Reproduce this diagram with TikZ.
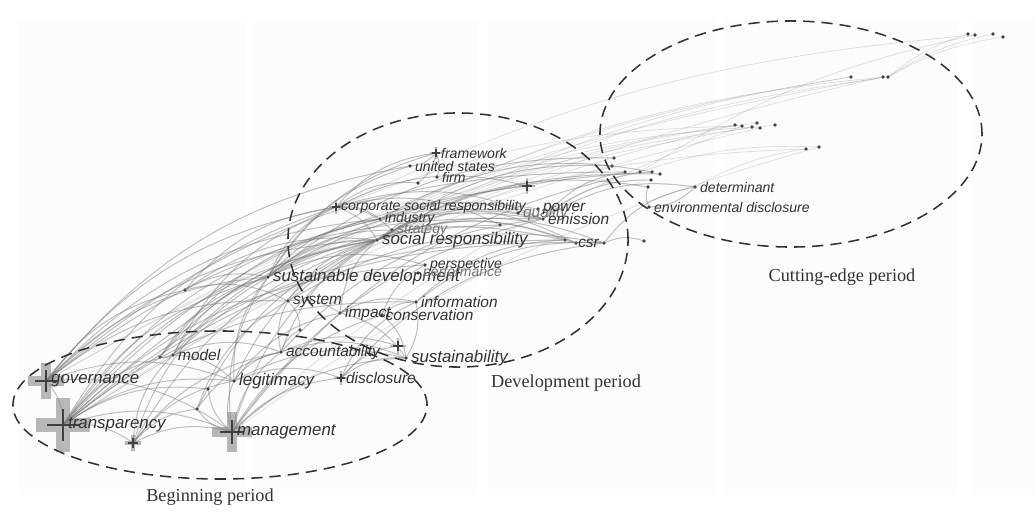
\documentclass[tikz,border=0pt]{standalone}
\usepackage{fontspec}
\setmainfont{Liberation Serif}
\setsansfont{Liberation Sans}
\usetikzlibrary{positioning}

\tikzset{
  dot/.style={circle,fill=black!75,inner sep=0pt,minimum size=2.5pt},
  kw/.style={font=\sffamily\itshape\fontsize{11}{11}\selectfont,text=black!80,inner sep=1pt},
  kwS/.style={kw,font=\sffamily\itshape\fontsize{10}{10}\selectfont},
  kwL/.style={kw,font=\sffamily\itshape\fontsize{12}{12}\selectfont},
  faint/.style={text=black!55},
  link/.style={draw=black!55,opacity=.45,line width=.7pt,bend left=20},
  farlink/.style={link,opacity=.22,line width=.5pt,bend left=10},
  period/.style={draw=black!80,line width=1.1pt,dash pattern=on 8pt off 5pt},
  era/.style={font=\rmfamily\fontsize{13}{13}\selectfont,text=black!80},
  panel/.style={fill=black!1,draw=none}
}
% plus-shaped marker on a node: name, half size, bar width
\newcommand\hubmark[3]{%
  \draw[black!50,opacity=.55,line width=#3] (#1) +(-#2,0) -- +(#2,0) +(0,-#2) -- +(0,#2);
  \draw[black!75,line width=.8pt] (#1) +(-0.6*#2,0) -- +(0.6*#2,0) +(0,-0.6*#2) -- +(0,0.6*#2);}

\begin{document}
\begin{tikzpicture}[x=0.025cm,y=-0.025cm]
  \useasboundingbox (0,0) rectangle (1035,513);
  \fill[panel] (18,20) rectangle (245,495) (255,20) rectangle (478,495)
    (488,20) rectangle (715,495) (725,20) rectangle (958,495) (972,20) rectangle (1035,495);

  % keyword dots
  \path
    (46,381) node[dot] (gov) {}
    (63,425) node[dot] (tra) {}
    (133,443) node[dot] (t2) {}
    (232,432) node[dot] (man) {}
    (173,355) node[dot] (mod) {}
    (234,381) node[dot] (leg) {}
    (281,352) node[dot] (acc) {}
    (341,378) node[dot] (dis) {}
    (406,358) node[dot] (sus) {}
    (398,346) node[dot] (hs) {}
    (268,277) node[dot] (sd) {}
    (288,301) node[dot] (sys) {}
    (340,313) node[dot] (imp) {}
    (382,315) node[dot] (con) {}
    (416,302) node[dot] (inf) {}
    (425,265) node[dot] (per) {}
    (418,273) node[dot] (perf) {}
    (377,240) node[dot] (soc) {}
    (392,230) node[dot] (str) {}
    (380,219) node[dot] (ind) {}
    (336,207) node[dot] (csr1) {}
    (436,153) node[dot] (fw) {}
    (410,166) node[dot] (us) {}
    (437,177) node[dot] (firm) {}
    (527,186) node[dot] (hb) {}
    (518,213) node[dot] (qual) {}
    (538,209) node[dot] (pow) {}
    (543,219) node[dot] (emi) {}
    (604,243) node[dot] (csr) {}
    (695,187) node[dot] (det) {}
    (649,207) node[dot] (env) {};

  % unlabelled dots
  \path
    (160,357) node[dot] (m0) {} (197,409) node[dot] (l1) {} (208,389) node[dot] (l2) {}
    (185,290) node[dot] (m1) {} (418,183) node[dot] (f2) {} (300,330) node[dot] (m2) {}
    (565,240) node[dot] (q1) {} (576,243) node[dot] (q2) {} (500,225) node[dot] (q3) {}
    (614,158) node[dot] (r1) {} (612,166) node[dot] (r2) {} (625,172) node[dot] (r3) {}
    (640,172) node[dot] (r4) {} (652,172) node[dot] (r5) {} (660,174) node[dot] (r6) {}
    (651,180) node[dot] (r7) {} (648,187) node[dot] (r8) {} (644,241) node[dot] (r9) {}
    (735,125) node[dot] (c1) {} (742,126) node[dot] (c2) {} (752,127) node[dot] (c3) {}
    (757,123) node[dot] (c4) {} (760,128) node[dot] (c5) {} (775,125) node[dot] (c6) {}
    (806,149) node[dot] (c7) {} (819,147) node[dot] (c8) {}
    (851,77) node[dot] (d1) {} (883,77) node[dot] (d2) {} (888,77) node[dot] (d3) {}
    (968,34) node[dot] (e1) {} (975,35) node[dot] (e2) {} (993,34) node[dot] (e3) {}
    (1003,37) node[dot] (e4) {};

  % links
  \draw[link]
    (gov) edge (tra) edge (man) edge (leg) edge (sd) edge (soc) edge (csr1) edge (emi) edge (r3)
      edge (ind) edge (sys) edge (m1) edge (us)
    (tra) edge (t2) edge (man) edge (mod) edge (sd) edge (soc) edge (ind) edge (csr) edge (r5)
      edge (csr1) edge (per) edge (inf) edge (hb) edge (leg) edge (l2) edge (q1)
    (t2) edge (man) edge (leg) edge (sd) edge (soc) edge (l1) edge (mod) edge (acc)
    (man) edge (leg) edge (l1) edge (l2) edge (dis) edge (sd) edge (soc) edge (emi) edge (r4)
      edge (sus) edge (con) edge (acc)
    (mod) edge (leg) edge (acc) edge (sd) edge (csr1) edge (soc) edge (m0) edge (q3)
    (m0) edge (sd) edge (soc) edge (ind)
    (l1) edge (acc) edge (soc) edge (sys)
    (m1) edge (sd) edge (soc) edge (sys) edge (csr1)
    (leg) edge (acc) edge (dis) edge (sus) edge (sd) edge (soc) edge (imp)
    (acc) edge (sus) edge (sys) edge (soc) edge (emi) edge (hs) edge (m2)
    (dis) edge (sus) edge (inf) edge (csr) edge (hs)
    (sd) edge (ind) edge (soc) edge (per) edge (csr1) edge (fw) edge (emi) edge (r1)
      edge (us) edge (q2) edge (str)
    (sys) edge (imp) edge (soc) edge (csr) edge (r6) edge (m2)
    (imp) edge (con) edge (inf) edge (soc) edge (sus)
    (con) edge (sus) edge (inf) edge (per)
    (inf) edge (sus) edge (csr) edge (q1)
    (csr1) edge (ind) edge (soc) edge (hb) edge (emi) edge (fw) edge (str) edge (f2) edge (q3)
    (soc) edge (emi) edge (csr) edge (qual) edge (pow) edge (r2) edge (q2) edge (q1) edge (r8)
    (ind) edge (q2) edge (emi) edge (r5)
    (fw) edge (us) edge (f2) edge (firm)
    (emi) edge (r3) edge (det) edge (r7)
    (csr) edge (r9) edge (det)
    (det) edge (env)
    (env) edge (r8);
  \draw[farlink]
    (gov) edge (c3) edge (d2)
    (tra) edge (c5) edge (d2) edge (c1)
    (man) edge (c2) edge (c8)
    (sd) edge (c1) edge (d1) edge (c6)
    (soc) edge (c4) edge (d1) edge (d3) edge (c7)
    (csr1) edge (c2) edge (e2)
    (ind) edge (c3) edge (d2)
    (det) edge (c7)
    (r4) edge (c8) edge (e2)
    (d3) edge (e1) edge (e3) edge (e4);

  % markers
  \hubmark{tra}{27}{10pt}
  \hubmark{gov}{18}{7pt}
  \hubmark{man}{20}{7pt}
  \hubmark{t2}{8}{2.5pt}
  \hubmark{dis}{7}{2pt}
  \hubmark{hs}{8}{2pt}
  \hubmark{hb}{8}{1.8pt}
  \hubmark{csr1}{7}{2pt}
  \hubmark{fw}{6}{1.5pt}

  % keyword labels
  \path
    node[kwL, right=1pt of gov] (govl) {governance}
    node[kwL, right=1pt of tra] (tral) {transparency}
    node[kwL, right=1pt of man] (manl) {management}
    node[kw, right=1pt of mod] (modl) {model}
    node[kwL, right=1pt of leg] (legl) {legitimacy}
    node[kw, right=1pt of acc] (accl) {accountability}
    node[kw, right=1pt of dis] (disl) {disclosure}
    node[kwL, right=1pt of sus] (susl) {sustainability}
    node[kwL, right=1pt of sd] (sdl) {sustainable development}
    node[kw, right=1pt of sys] (sysl) {system}
    node[kw, right=1pt of imp] (impl) {impact}
    node[kw, right=0pt of con] (conl) {conservation}
    node[kw, right=1pt of inf] (infl) {information}
    node[kwS, faint, right=1pt of perf] (perfl) {performance}
    node[kwS, right=1pt of per] (perl) {perspective}
    node[kwL, right=1pt of soc] (socl) {social responsibility}
    node[kwS, faint, right=1pt of str] (strl) {strategy}
    node[kwS, right=1pt of ind] (indl) {industry}
    node[kwS, right=1pt of csr1] (csr1l) {corporate social responsibility}
    node[kwS, right=1pt of fw] (fwl) {framework}
    node[kwS, right=1pt of us] (usl) {united states}
    node[kwS, right=1pt of firm] (firml) {firm}
    node[kw, faint, right=1pt of qual] (quall) {quality}
    node[kw, right=1pt of pow] (powl) {power}
    node[kw, right=1pt of emi] (emil) {emission}
    node[kw, left=1pt of csr] (csrl) {csr}
    node[kwS, right=1pt of det] (detl) {determinant}
    node[kwS, right=1pt of env] (envl) {environmental disclosure};

  % periods
  \draw[period] (220,405) ellipse [x radius=5.175cm, y radius=1.85cm];
  \draw[period] (458,240) ellipse [x radius=4.25cm, y radius=3.175cm];
  \draw[period] (791,134) ellipse [x radius=4.775cm, y radius=2.825cm];
  \path
    (210,497) node[era] (begin) {Beginning period}
    (566,383) node[era] (devel) {Development period}
    (842,277) node[era] (cut) {Cutting-edge period};
\end{tikzpicture}
\end{document}
